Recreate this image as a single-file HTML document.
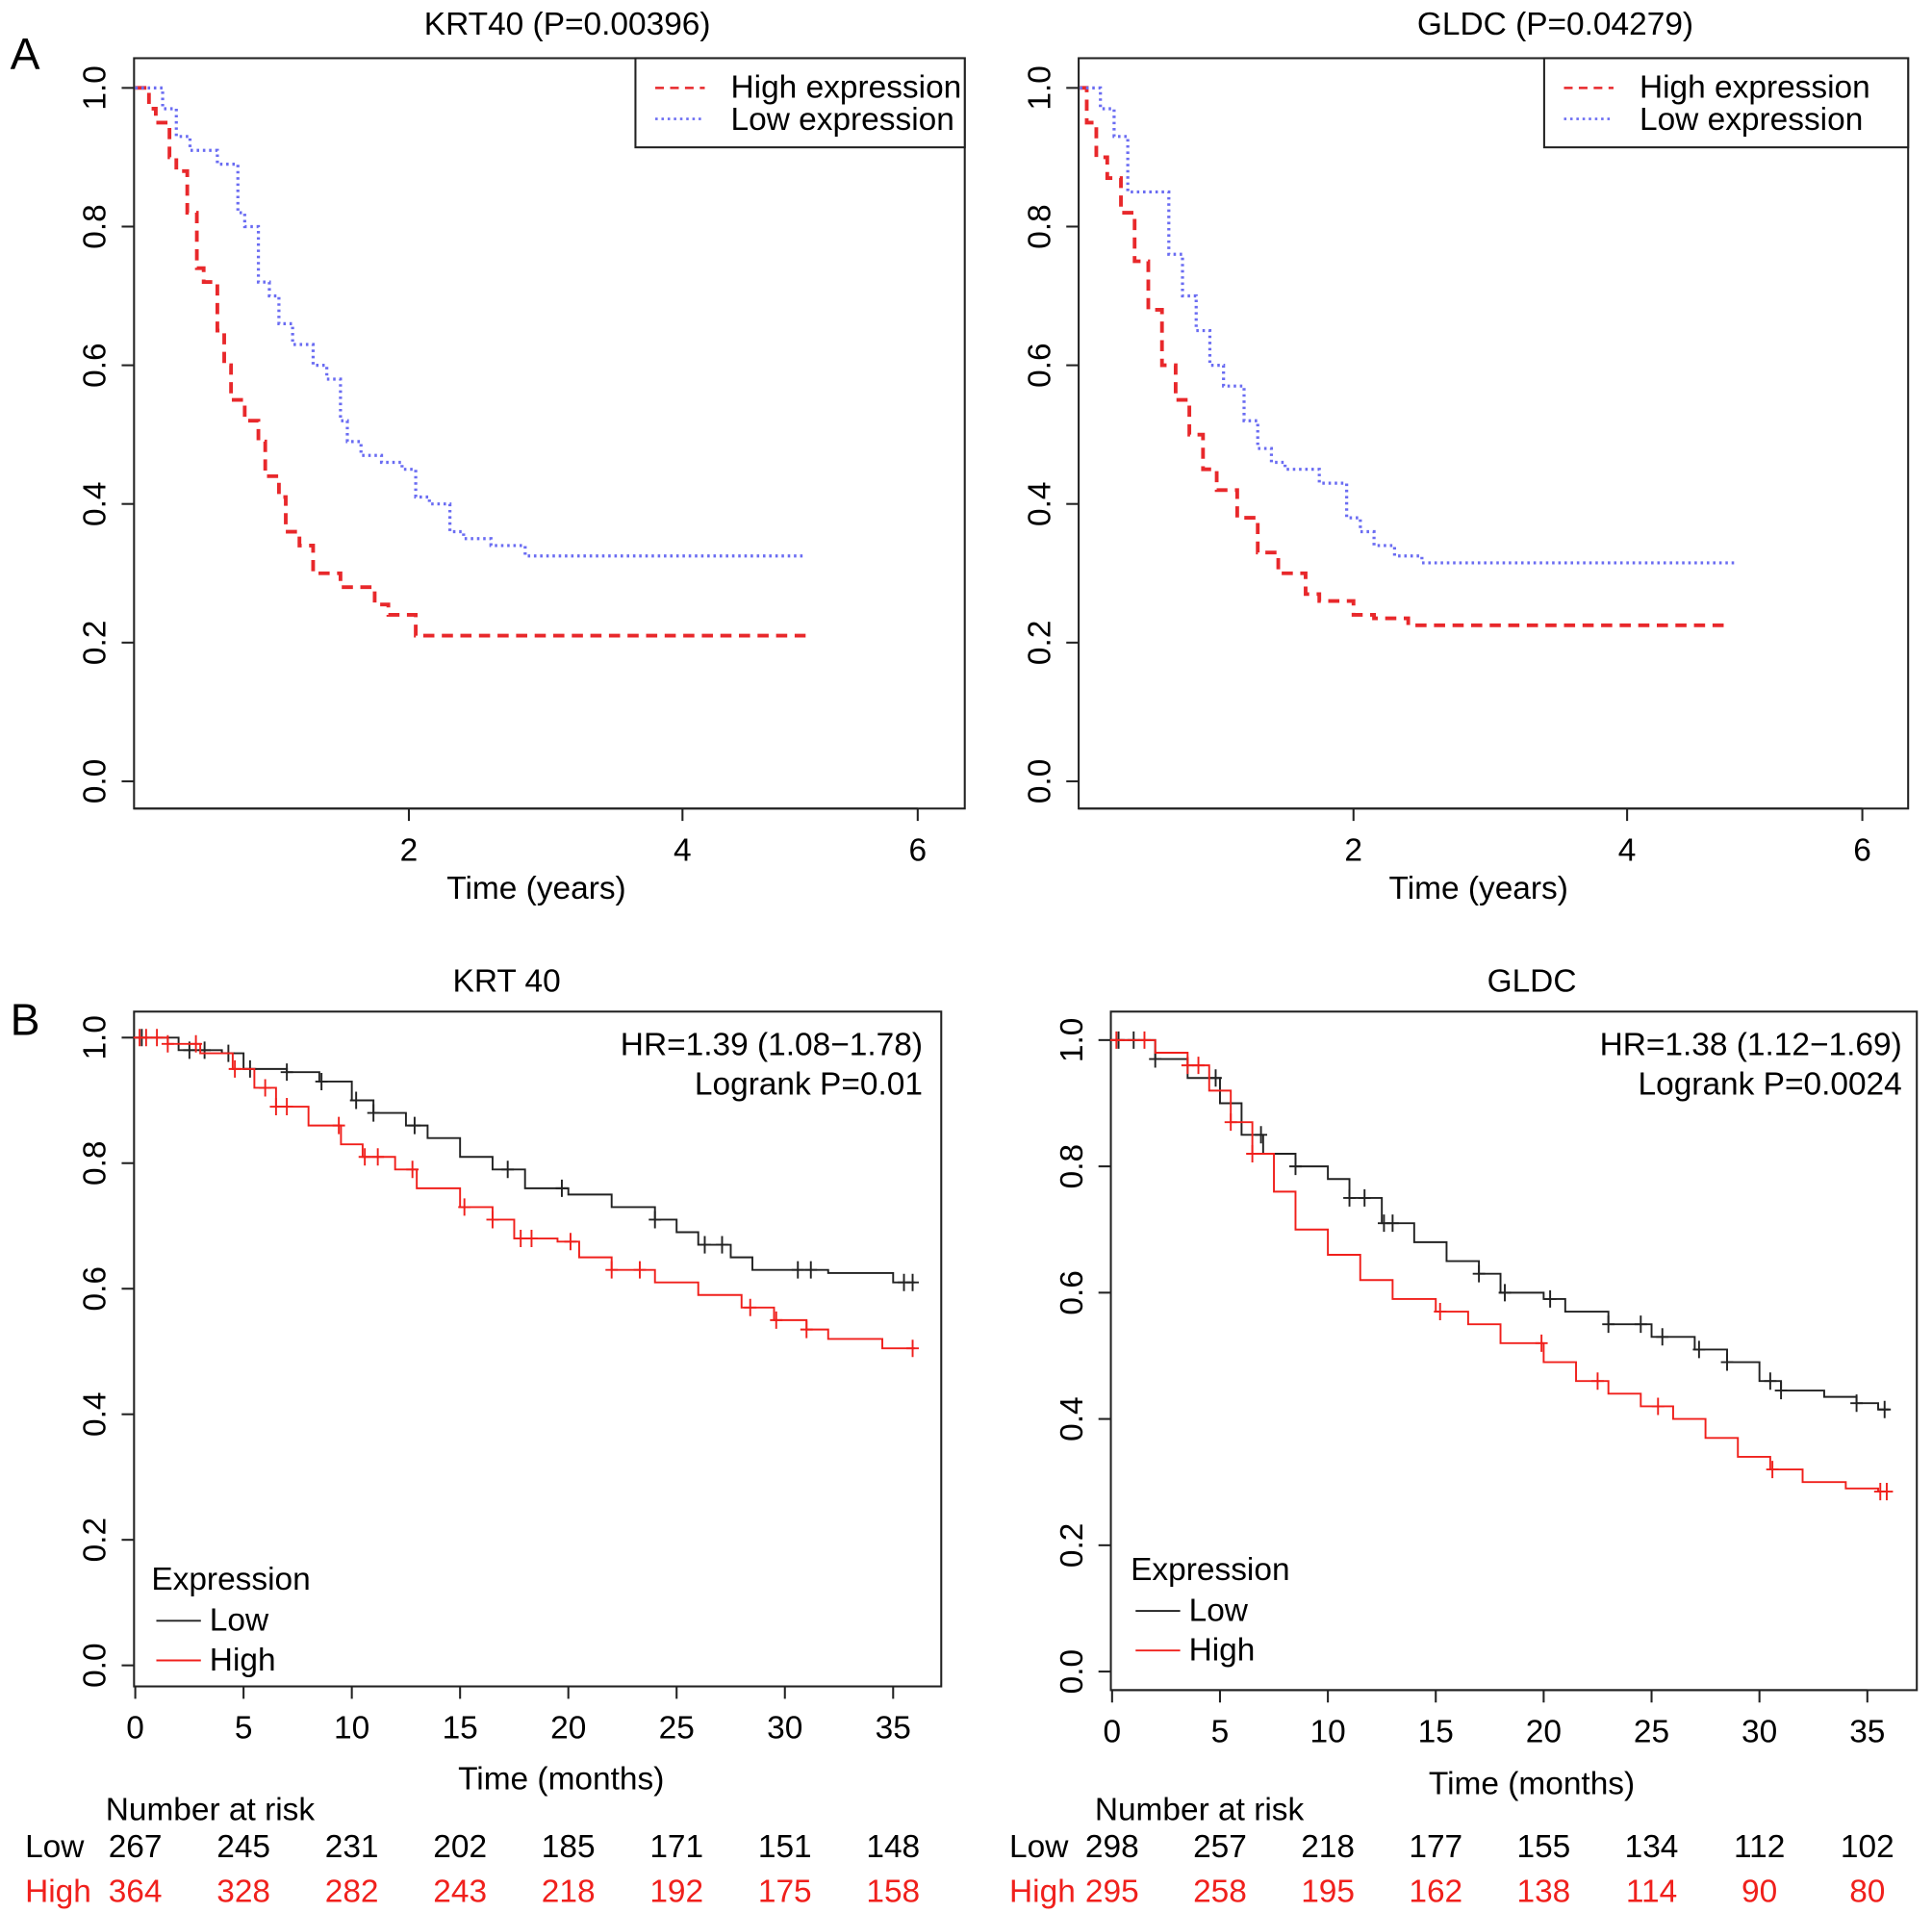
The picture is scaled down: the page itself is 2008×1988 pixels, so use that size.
<!DOCTYPE html>
<html><head><meta charset="utf-8"><style>
html,body{margin:0;padding:0;background:#fff}
svg{display:block;font-family:"Liberation Sans",Arial,sans-serif}
</style></head><body>
<svg id="fig" width="2008" height="1988" viewBox="0 0 1560 1545" xmlns="http://www.w3.org/2000/svg"></svg>
<script>
// ---- Panel A1 data (years) ----
const a1HighT=[0,0.1,0.15,0.25,0.3,0.38,0.45,0.5,0.6,0.65,0.7,0.8,0.9,0.95,1.05,1.1,1.2,1.3,1.5,1.75,1.85,2.05,2.2,4.9];
const a1HighS=[1,0.97,0.95,0.9,0.88,0.82,0.74,0.72,0.65,0.6,0.55,0.52,0.49,0.44,0.41,0.36,0.34,0.30,0.28,0.255,0.24,0.21,0.21,0.21];
const a1LowT=[0,0.2,0.3,0.4,0.6,0.75,0.8,0.9,0.98,1.05,1.15,1.3,1.4,1.5,1.55,1.65,1.8,1.95,2.05,2.15,2.3,2.4,2.6,2.85,3.0,4.9];
const a1LowS=[1,0.97,0.93,0.91,0.89,0.82,0.8,0.72,0.7,0.66,0.63,0.6,0.58,0.52,0.49,0.47,0.46,0.45,0.41,0.40,0.36,0.35,0.34,0.325,0.325,0.325];
// ---- Panel A2 data (years) ----
const a2HighT=[0,0.05,0.12,0.2,0.3,0.4,0.5,0.6,0.7,0.8,0.9,1.0,1.15,1.3,1.45,1.65,1.75,2.0,2.15,2.4,2.8,4.75];
const a2HighS=[1,0.95,0.9,0.87,0.82,0.75,0.68,0.6,0.55,0.5,0.45,0.42,0.38,0.33,0.3,0.27,0.26,0.24,0.235,0.225,0.225,0.225];
const a2LowT=[0,0.15,0.25,0.35,0.65,0.75,0.85,0.95,1.05,1.2,1.3,1.4,1.5,1.75,1.95,2.05,2.15,2.3,2.5,2.7,4.8];
const a2LowS=[1,0.97,0.93,0.85,0.76,0.7,0.65,0.6,0.57,0.52,0.48,0.46,0.45,0.43,0.38,0.36,0.34,0.325,0.315,0.315,0.315];
// ---- Panel B1 data (months) ----
const b1LowT=[0,2,4,5,7,8.5,10,11,12.5,13.5,15,16.5,18,20,22,24,25,26,27.5,28.5,32,35,36];
const b1LowS=[1,0.98,0.975,0.95,0.945,0.93,0.9,0.88,0.86,0.84,0.81,0.79,0.76,0.75,0.73,0.71,0.69,0.67,0.65,0.63,0.625,0.61,0.61];
const b1HighT=[0,1.5,3,4.5,5.5,6.5,8,9.5,10.5,12,13,15,16.5,17.5,19.5,20.5,22,24,26,28,29.5,31,32,34.5,36];
const b1HighS=[1,0.99,0.975,0.95,0.92,0.89,0.86,0.83,0.81,0.79,0.76,0.73,0.71,0.68,0.675,0.65,0.63,0.61,0.59,0.57,0.55,0.535,0.52,0.505,0.505];
const b1LowCens=[0.3,2.5,3.2,4.3,5.3,7,8.6,10.2,11,12.9,17.2,19.7,24,26.3,27.1,30.6,31.2,35.5,35.9];
const b1HighCens=[0.2,0.5,1,1.5,2.8,4.6,6,6.5,7,9.4,10.6,11.2,12.8,15.2,16.5,17.8,18.3,20.1,22,23.3,28.4,29.6,31,35.9];
// ---- Panel B2 data (months) ----
const b2LowT=[0,2,3.5,5,6,7,8.5,10,11,12.5,14,15.5,17,18,20,21,23,25,27,28.5,30,31,33,34.5,35.5,36];
const b2LowS=[1,0.97,0.94,0.9,0.85,0.82,0.8,0.78,0.75,0.71,0.68,0.65,0.63,0.6,0.59,0.57,0.55,0.53,0.51,0.49,0.46,0.445,0.435,0.425,0.415,0.415];
const b2HighT=[0,2,3.5,4.5,5.5,6.5,7.5,8.5,10,11.5,13,15,16.5,18,20,21.5,23,24.5,26,27.5,29,30.5,32,34,35.5,36];
const b2HighS=[1,0.98,0.96,0.92,0.87,0.82,0.76,0.7,0.66,0.62,0.59,0.57,0.55,0.52,0.49,0.46,0.44,0.42,0.4,0.37,0.34,0.32,0.3,0.29,0.285,0.285];
const b2LowCens=[0.3,1,2,4.8,6.9,8.5,11,11.7,12.6,13,17,18.2,20.3,23,24.5,25.5,27.2,28.5,30.5,31,34.5,35.8];
const b2HighCens=[0.2,1.5,3.5,4,5.5,6.5,15.2,19.9,22.5,25.3,30.6,35.6,35.9];
// ---- ticks / risk tables ----
const aXTicks=[2,4,6];
const yTicks=[0,0.2,0.4,0.6,0.8,1.0];
const bXTicks=[0,5,10,15,20,25,30,35];
const b1RiskLow=[267,245,231,202,185,171,151,148];
const b1RiskHigh=[364,328,282,243,218,192,175,158];
const b2RiskLow=[298,257,218,177,155,134,112,102];
const b2RiskHigh=[295,258,195,162,138,114,90,80];

const FS=26;
const svg=document.getElementById('fig');
const NS='http://www.w3.org/2000/svg';
function mk(tag,attrs,parent,text){const e=document.createElementNS(NS,tag);for(const k in attrs)e.setAttribute(k,attrs[k]);if(text!==undefined)e.textContent=text;(parent||svg).appendChild(e);return e;}

function panel(p){
  const g=mk('g',{});
  
  
  const X=v=>p.x0+(v-0)*p.xs, Y=v=>p.y0-v*p.ys;
  const box=mk('rect',{x:p.bx,y:p.by,width:p.bw,height:p.bh,fill:'none',stroke:'#222','stroke-width':1.6},g);
  
  yTicks.forEach(v=>{
    mk('line',{x1:p.bx-10,x2:p.bx,y1:Y(v),y2:Y(v),stroke:'#222','stroke-width':1.6},g);
    const t=mk('text',{x:p.bx-30,y:Y(v),'font-size':FS,'text-anchor':'middle',transform:`rotate(-90 ${p.bx-30} ${Y(v)})`,'dominant-baseline':'middle'},g,v.toFixed(1));
    
  });
  mk('line',{x1:p.bx,x2:p.xAxisEnd,y1:p.by+p.bh,y2:p.by+p.bh,stroke:'#222','stroke-width':1.6},g);
  p.xTicks.forEach(v=>{
    const xx=p.xTickPos?p.xTickPos(v):X(v);
    mk('line',{x1:xx,x2:xx,y1:p.by+p.bh,y2:p.by+p.bh+10,stroke:'#222','stroke-width':1.6},g);
    const t=mk('text',{x:xx,y:p.by+p.bh+42,'font-size':FS,'text-anchor':'middle'},g,String(v));
    
  });
  const xt=mk('text',{x:p.xtx,y:p.xty,'font-size':FS,'text-anchor':'middle'},g,p.xTitle);
  
  const tt=mk('text',{x:p.ttx,y:p.tty,'font-size':FS,'text-anchor':'middle'},g,p.title);
  
  p.series.forEach(s=>{
    let d=`M${X(s.t[0])},${Y(s.s[0])}`;
    for(let i=1;i<s.t.length;i++){d+=` H${X(s.t[i])} V${Y(s.s[i])}`;}
    const path=mk('path',{d,fill:'none',stroke:s.color,'stroke-width':s.w,'stroke-dasharray':s.dash||'none'},g);
    
    (s.cens||[]).forEach(c=>{
      let idx=0;for(let i=0;i<s.t.length;i++){if(s.t[i]<=c)idx=i;}
      const cx=X(c),cy=Y(s.s[idx]);
      const m=mk('path',{d:`M${cx-5},${cy}H${cx+5}M${cx},${cy-7}V${cy+7}`,stroke:s.color,'stroke-width':1.5,fill:'none'},g);
      
    });
  });
  return {g,X,Y};
}

const A1=panel({name:'panel-a-krt40',bx:108,by:47,bw:671,bh:606,x0:109,xs:110.5,y0:631,ys:560,
  xTicks:aXTicks,xTickPos:v=>v===6?741:109+v*110.5,xAxisEnd:741,xtx:433,xty:726,xTitle:'Time (years)',ttx:458,tty:28,title:'KRT40 (P=0.00396)',
  series:[{name:'high-expression-curve',t:a1HighT,s:a1HighS,color:'#e8282b',w:3,dash:'9 6'},
          {name:'low-expression-curve',t:a1LowT,s:a1LowS,color:'#6a6cf2',w:2.5,dash:'2 3'}]});
const A2=panel({name:'panel-a-gldc',bx:871,by:47,bw:670,bh:606,x0:872,xs:110.5,y0:631,ys:560,
  xTicks:aXTicks,xTickPos:v=>v===6?1504:872+v*110.5,xAxisEnd:1504,xtx:1194,xty:726,xTitle:'Time (years)',ttx:1256,tty:28,title:'GLDC (P=0.04279)',
  series:[{name:'high-expression-curve',t:a2HighT,s:a2HighS,color:'#e8282b',w:3,dash:'9 6'},
          {name:'low-expression-curve',t:a2LowT,s:a2LowS,color:'#6a6cf2',w:2.5,dash:'2 3'}]});
[[513,779],[1247,1541]].forEach(([lx,rx])=>{
  const lg=mk('g',{});
  mk('rect',{x:lx,y:47,width:rx-lx,height:72,fill:'#fff',stroke:'#222','stroke-width':1.6},lg);
  mk('line',{x1:lx+16,x2:lx+56,y1:71,y2:71,stroke:'#e8282b','stroke-width':2,'stroke-dasharray':'7 5'},lg);
  mk('line',{x1:lx+16,x2:lx+56,y1:96,y2:96,stroke:'#6a6cf2','stroke-width':2,'stroke-dasharray':'2 3'},lg);
  const e1=mk('text',{x:lx+77,y:79,'font-size':26},lg,'High expression');
  const e2=mk('text',{x:lx+77,y:105,'font-size':26},lg,'Low expression');
});
const B1=panel({name:'panel-b-krt40',bx:108,by:817,bw:652,bh:545,x0:109,xs:17.49,y0:1345,ys:507,
  xTicks:bXTicks,xAxisEnd:721,xtx:453,xty:1445,xTitle:'Time (months)',ttx:409,tty:801,title:'KRT 40',
  series:[{name:'low-curve',t:b1LowT,s:b1LowS,color:'#222',w:1.5,cens:b1LowCens},
          {name:'high-curve',t:b1HighT,s:b1HighS,color:'#f0201c',w:1.5,cens:b1HighCens}]});
const B2=panel({name:'panel-b-gldc',bx:897,by:817,bw:651,bh:548,x0:898,xs:17.43,y0:1350,ys:510,
  xTicks:bXTicks,xAxisEnd:1508,xtx:1237,xty:1449,xTitle:'Time (months)',ttx:1237,tty:801,title:'GLDC',
  series:[{name:'low-curve',t:b2LowT,s:b2LowS,color:'#222',w:1.5,cens:b2LowCens},
          {name:'high-curve',t:b2HighT,s:b2HighS,color:'#f0201c',w:1.5,cens:b2HighCens}]});
function txt(x,y,s,name,opts){const t=mk('text',Object.assign({x,y,'font-size':FS},opts||{}),svg,s);return t;}
txt(745,852,'HR=1.39 (1.08\u22121.78)','hazard-ratio',{'text-anchor':'end'});
txt(745,884,'Logrank P=0.01','logrank-p',{'text-anchor':'end'});
txt(1536,852,'HR=1.38 (1.12\u22121.69)','hazard-ratio',{'text-anchor':'end'});
txt(1536,884,'Logrank P=0.0024','logrank-p',{'text-anchor':'end'});
[[122,1284],[913,1276]].forEach(([x,y])=>{
  txt(x,y,'Expression','legend-title');
  mk('line',{x1:x+4,x2:x+40,y1:y+25,y2:y+25,stroke:'#222','stroke-width':1.5});
  mk('line',{x1:x+4,x2:x+40,y1:y+57,y2:y+57,stroke:'#f0201c','stroke-width':1.5});
  txt(x+47,y+33,'Low','legend-entry-low');
  txt(x+47,y+65,'High','legend-entry-high');
});
txt(8,56,'A','panel-label',{'font-size':36});
txt(8,836,'B','panel-label',{'font-size':36});
function risk(X,low,high,labX,nrX){
  txt(nrX,1470,'Number at risk','risk-table-title');
  txt(labX,1500,'Low','risk-row-label-low');
  txt(labX,1536,'High','risk-row-label-high',{fill:'#f0201c'});
  bXTicks.forEach((v,i)=>{
    txt(X(v),1500,String(low[i]),'risk-value-low',{'text-anchor':'middle'});
    txt(X(v),1536,String(high[i]),'risk-value-high',{'text-anchor':'middle',fill:'#f0201c'});
  });
}
risk(B1.X,b1RiskLow,b1RiskHigh,20,85);
risk(B2.X,b2RiskLow,b2RiskHigh,815,884);
</script>
</body></html>
